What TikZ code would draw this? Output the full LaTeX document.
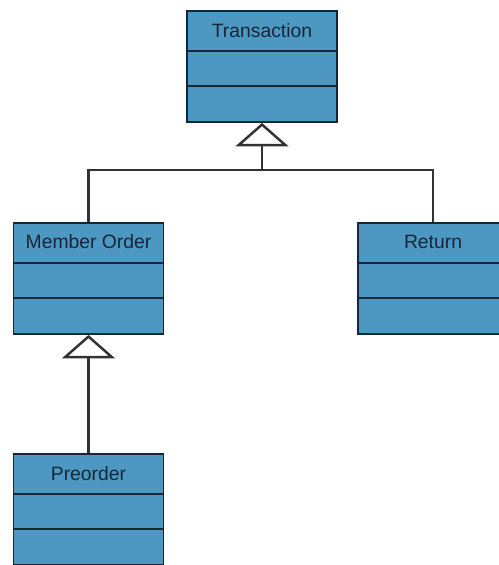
\documentclass[tikz,border=0pt]{standalone}
\usepackage{fontspec}
\setmainfont{Liberation Sans}
\usetikzlibrary{calc,arrows.meta}

\definecolor{classfill}{RGB}{77,152,194}
\definecolor{classline}{RGB}{22,38,52}
\definecolor{linkline}{RGB}{50,50,50}

\tikzset{
	classbox/.style={draw=classline, line width=1.1pt, fill=classfill, anchor=north,
		minimum width=3cm, minimum height=2.22cm, inner sep=0pt},
	classname/.style={font=\fontsize{11}{13}\selectfont, text=classline, inner sep=0pt},
	divider/.style={draw=classline, line width=1.1pt},
	link/.style={draw=linkline, line width=1.4pt},
	inherit/.style={link, -{Triangle[open, length=0.47cm, width=1.06cm, fill=white]}}
}

\begin{document}
\begin{tikzpicture}[x=0.02cm, y=-0.02cm]
		\useasboundingbox (0,0) rectangle (499,565);
		\clip (0,0) rectangle (499,565);
		
		% classes
		\node[classbox] (trans) at (262,10) {};
		\node[classbox] (member) at (88.5,222) {};
		\node[classbox] (ret) at (433,222) {};
		\node[classbox] (preorder) at (88.5,453) {};
		
		\node[classname] (transname) at ($(trans.north)+(0,21)$) {Transaction};
		\node[classname] (membername) at ($(member.north)+(0,20)$) {Member Order};
		\node[classname] (retname) at ($(ret.north)+(0,20)$) {Return};
		\node[classname] (preordername) at ($(preorder.north)+(0,21)$) {Preorder};
		
		% compartments
		\foreach \c in {trans,member,ret,preorder} {
			\draw[divider] ($(\c.north west)+(0,41)$) -- ($(\c.north east)+(0,41)$);
			\draw[divider] ($(\c.north west)+(0,76)$) -- ($(\c.north east)+(0,76)$);
		}
		
		% generalisation
		\coordinate (split) at (262,170);
		\draw[inherit] (member.north) |- (split) -- (trans.south);
		\draw[link] (ret.north) |- (split);
		\draw[inherit] (preorder.north) -- (member.south);
	\end{tikzpicture}
\end{document}
